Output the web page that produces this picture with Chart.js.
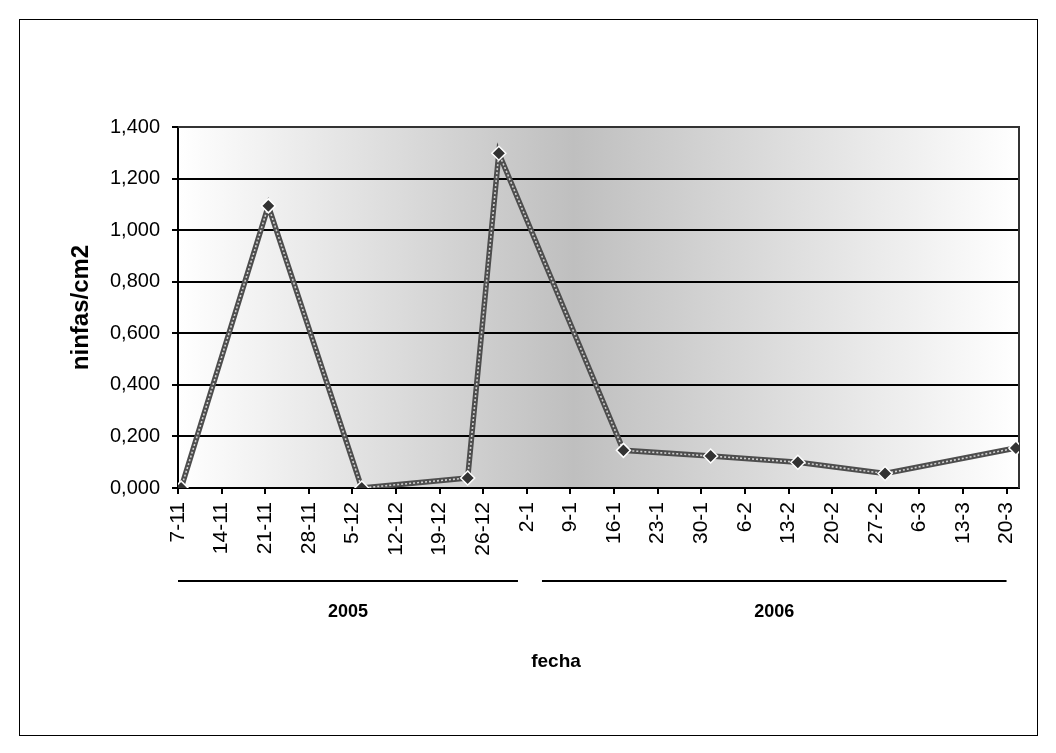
<!DOCTYPE html>
<html>
<head>
<meta charset="utf-8">
<script src="https://cdn.jsdelivr.net/npm/chart.js@4.4.1/dist/chart.umd.min.js"></script>
<style>
  html, body { margin: 0; padding: 0; background: #ffffff; }
  #wrap { position: relative; width: 1056px; height: 753px; }
</style>
</head>
<body>
<div id="wrap"><canvas id="chart" width="1056" height="753"></canvas></div>
<script>
// Sampling dates (day-month-year) and nymph density per cm2
const sampleDates = ['7-11-2005', '21-11-2005', '6-12-2005', '23-12-2005', '28-12-2005',
                     '17-1-2006', '31-1-2006', '14-2-2006', '28-2-2006', '21-3-2006'];
const ninfas = [0.000, 1.094, 0.000, 0.039, 1.298, 0.146, 0.124, 0.100, 0.056, 0.155];

// Weekly date ticks, starting on 7-11-2005
const tickLabels = ['7-11', '14-11', '21-11', '28-11', '5-12', '12-12', '19-12', '26-12',
                    '2-1', '9-1', '16-1', '23-1', '30-1', '6-2', '13-2', '20-2', '27-2',
                    '6-3', '13-3', '20-3'];
const tickYears = [2005, 2005, 2005, 2005, 2005, 2005, 2005, 2005,
                   2006, 2006, 2006, 2006, 2006, 2006, 2006, 2006, 2006, 2006, 2006, 2006];
const yearLabels = ['2005', '2006'];

const START = Date.UTC(2005, 10, 7);
const DAY = 86400000;
function dayIndex(s) {
  const [d, m, y] = s.split('-').map(Number);
  return (Date.UTC(y, m - 1, d) - START) / DAY;
}
// each date sits in the middle of its one-day slot
const points = sampleDates.map((s, i) => ({ x: dayIndex(s) + 0.5, y: ninfas[i] }));
const tickDays = tickLabels.map((_, i) => i * 7);

const FONT = "'Liberation Sans', Arial, sans-serif";

const decor = {
  id: 'decor',
  beforeDraw(chart) {
    const { ctx, chartArea: a } = chart;
    const g = ctx.createLinearGradient(a.left, 0, a.right, 0);
    g.addColorStop(0, '#ffffff');
    g.addColorStop(0.47, '#bfbfbf');
    g.addColorStop(1, '#ffffff');
    ctx.save();
    ctx.fillStyle = g;
    ctx.fillRect(a.left, a.top, a.right - a.left, a.bottom - a.top);
    ctx.restore();
  },
  beforeDatasetsDraw(chart) {
    const { ctx, chartArea: a } = chart;
    ctx.save();
    ctx.strokeStyle = '#333333';
    ctx.lineWidth = 2;
    ctx.beginPath();
    ctx.moveTo(a.left, a.top);
    ctx.lineTo(a.right, a.top);
    ctx.lineTo(a.right, a.bottom);
    ctx.stroke();
    ctx.restore();
  },
  afterDraw(chart) {
    const { ctx } = chart;
    const xs = chart.scales.x;
    ctx.save();
    // outer frame
    ctx.strokeStyle = '#000000';
    ctx.lineWidth = 1;
    ctx.strokeRect(19.5, 19.5, 1018, 716);

    // year groups under the day labels
    const firstNew = tickYears.indexOf(2006);
    const split = xs.getPixelForValue(tickDays[firstNew] + 0.5);
    const gap = 12;
    const groups = [
      [xs.getPixelForValue(tickDays[0]), split - gap],
      [split + gap, xs.getPixelForValue(tickDays[tickDays.length - 1])]
    ];
    const lineY = 581;
    ctx.lineWidth = 2;
    ctx.font = 'bold 18px ' + FONT;
    ctx.fillStyle = '#000000';
    ctx.textAlign = 'center';
    ctx.textBaseline = 'middle';
    groups.forEach(([x0, x1], i) => {
      ctx.beginPath();
      ctx.moveTo(x0, lineY);
      ctx.lineTo(x1, lineY);
      ctx.stroke();
      ctx.fillText(yearLabels[i], (x0 + x1) / 2, 612);
    });

    // axis title
    ctx.font = 'bold 19px ' + FONT;
    ctx.fillText('fecha', 556, 662);
    ctx.restore();
  }
};

new Chart(document.getElementById('chart'), {
  type: 'line',
  data: {
    datasets: [
      {
        // light dotted core drawn over the dark band, with the markers
        data: points,
        borderColor: '#d0d0d0',
        borderWidth: 1.6,
        borderDash: [2, 2],
        pointStyle: 'rectRot',
        pointRadius: 7,
        pointBackgroundColor: '#333333',
        pointBorderColor: '#ffffff',
        pointBorderWidth: 1.5,
        tension: 0,
        order: 1
      },
      {
        data: points,
        borderColor: '#4d4d4d',
        borderWidth: 5.5,
        pointRadius: 0,
        tension: 0,
        order: 2
      }
    ]
  },
  options: {
    responsive: false,
    animation: false,
    devicePixelRatio: 1,
    layout: { padding: { left: 20, top: 127, right: 37, bottom: 185 } },
    plugins: { legend: { display: false }, tooltip: { enabled: false } },
    scales: {
      x: {
        type: 'linear',
        min: 0,
        max: 135,
        afterBuildTicks(scale) { scale.ticks = tickDays.map(v => ({ value: v })); },
        afterFit(scale) { scale.height = 80; },
        grid: { drawOnChartArea: false, color: '#000000', lineWidth: 2, tickLength: 6 },
        border: { display: true, color: '#000000', width: 2 },
        ticks: {
          autoSkip: false,
          maxRotation: 90,
          minRotation: 90,
          padding: 8,
          color: '#000000',
          font: { family: FONT, size: 21 },
          callback: (v) => tickLabels[tickDays.indexOf(v)]
        }
      },
      y: {
        min: 0,
        max: 1.4,
        afterFit(scale) { scale.width = 158; },
        grid: { color: '#000000', lineWidth: 2, tickLength: 6 },
        border: { display: true, color: '#000000', width: 2 },
        ticks: {
          stepSize: 0.2,
          padding: 12,
          color: '#000000',
          font: { family: FONT, size: 20 },
          callback: (v) => v.toFixed(3).replace('.', ',')
        },
        title: {
          display: true,
          text: 'ninfas/cm2',
          color: '#000000',
          font: { family: FONT, size: 24, weight: 'bold' },
          padding: { top: 47, bottom: 0 }
        }
      }
    }
  },
  plugins: [decor]
});
</script>
</body>
</html>
